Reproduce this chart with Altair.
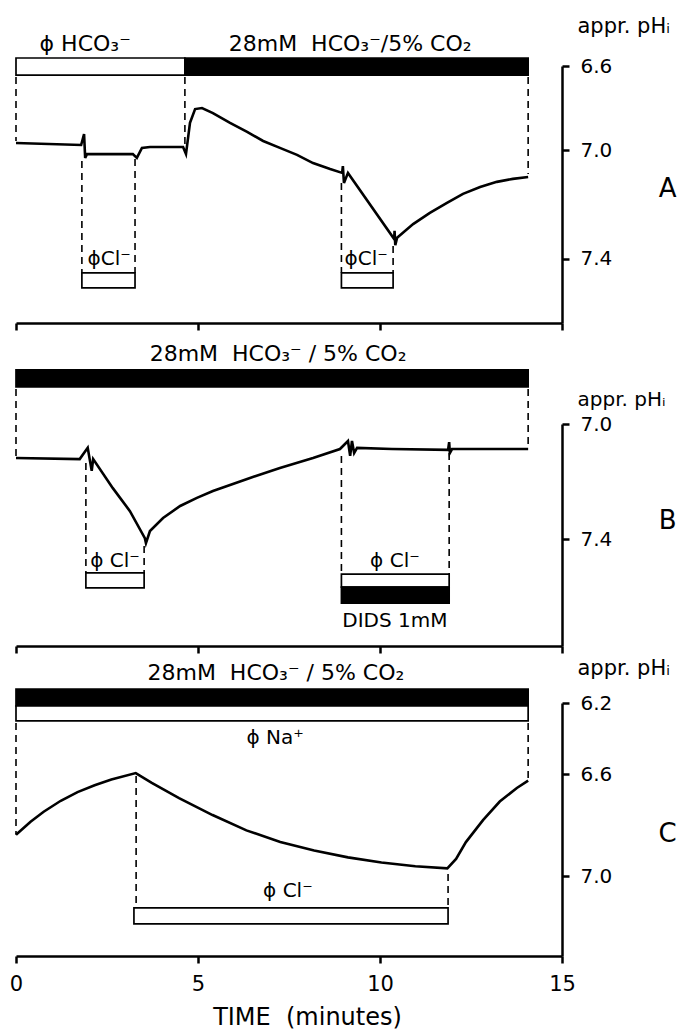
import altair as alt
import pandas as pd

FONT = "DejaVu Sans"
NB = "\u00a0"

# ---------------- Panel A ----------------
a_t = [0, 1.79, 1.87, 1.90, 1.95, 3.21, 3.32, 3.46, 3.68, 4.59, 4.67, 4.78, 4.92, 5.11, 5.41, 5.88,
       6.35, 6.79, 7.25, 7.72, 8.16, 8.63, 8.96, 8.98, 9.01, 9.12, 10.39, 10.40, 10.42, 10.47,
       10.91, 11.37, 11.84, 12.28, 12.75, 13.21, 13.65, 14.07]
a_ph = [6.967, 6.976, 6.924, 7.029, 7.015, 7.015, 7.029, 6.990, 6.986, 6.986, 7.015, 6.871, 6.805,
        6.800, 6.824, 6.871, 6.914, 6.957, 6.990, 7.018, 7.048, 7.070, 7.084, 7.059, 7.121, 7.084,
        7.327, 7.297, 7.349, 7.322, 7.272, 7.231, 7.194, 7.161, 7.136, 7.117, 7.106, 7.099]

a_bar_start = [0, 4.64, 1.81, 8.94]
a_bar_end = [4.64, 14.07, 3.27, 10.36]
a_bar_top = [6.562, 6.562, 7.451, 7.451]
a_bar_bottom = [6.643, 6.643, 7.506, 7.506]
a_bar_fill = ["free", "present", "free", "free"]

a_dash_t = [0, 4.64, 14.07, 1.81, 3.27, 8.94, 10.36]
a_dash_from = [6.652, 6.652, 6.652, 7.040, 7.033, 7.121, 7.352]
a_dash_to = [6.957, 6.971, 7.088, 7.451, 7.451, 7.451, 7.451]

a_head_t = [1.9, 9.18]
a_head_ph = [6.495, 6.495]
a_head_txt = ["ϕ HCO₃⁻", "28mM" + NB + NB + "HCO₃⁻/5% CO₂"]
a_lab_t = [2.56, 9.62]
a_lab_ph = [7.40, 7.40]
a_lab_txt = ["ϕCl⁻", "ϕCl⁻"]
a_letter = ("A", 17.9, 7.143)

# ---------------- Panel B ----------------
b_t = [0, 1.75, 1.97, 2.08, 2.12, 2.66, 3.13, 3.54, 3.57, 3.68, 4.04, 4.51, 4.97, 5.41, 6.35, 7.25,
       8.16, 8.90, 9.12, 9.18, 9.23, 9.29, 9.37, 10.33, 11.87, 11.90, 11.92, 11.98, 14.07]
b_ph = [7.118, 7.122, 7.083, 7.163, 7.122, 7.223, 7.303, 7.397, 7.414, 7.372, 7.327, 7.285, 7.257,
        7.233, 7.191, 7.153, 7.118, 7.087, 7.059, 7.111, 7.059, 7.101, 7.083, 7.087, 7.090, 7.063,
        7.101, 7.087, 7.087]

b_bar_start = [0, 1.92, 8.94, 8.94]
b_bar_end = [14.07, 3.52, 11.90, 11.90]
b_bar_top = [6.812, 7.518, 7.522, 7.567]
b_bar_bottom = [6.871, 7.570, 7.567, 7.623]
b_bar_fill = ["present", "free", "free", "present"]

b_dash_t = [0, 14.07, 1.92, 3.52, 8.94, 11.90]
b_dash_from = [6.878, 6.878, 7.136, 7.424, 7.111, 7.101]
b_dash_to = [7.118, 7.087, 7.518, 7.518, 7.522, 7.522]

b_head_t = [7.2]
b_head_ph = [6.757]
b_head_txt = ["28mM" + NB + NB + "HCO₃⁻ / 5% CO₂"]
b_lab_t = [2.72, 10.41, 10.41]
b_lab_ph = [7.477, 7.477, 7.685]
b_lab_txt = ["ϕ Cl⁻", "ϕ Cl⁻", "DIDS 1mM"]
b_letter = ("B", 17.9, 7.337)

# ---------------- Panel C ----------------
c_t = [0, 0.40, 0.76, 1.23, 1.69, 2.16, 2.62, 3.29, 3.73, 4.48, 5.40, 6.33, 7.26, 8.19, 9.12,
       10.04, 10.97, 11.85, 12.09, 12.36, 12.83, 13.29, 13.76, 14.07]
c_ph = [6.838, 6.787, 6.748, 6.705, 6.671, 6.644, 6.622, 6.595, 6.635, 6.695, 6.761, 6.821, 6.867,
        6.900, 6.927, 6.947, 6.962, 6.970, 6.933, 6.867, 6.781, 6.708, 6.655, 6.626]

c_bar_start = [0, 0, 3.24]
c_bar_end = [14.07, 14.07, 11.87]
c_bar_top = [6.121, 6.217, 7.125]
c_bar_bottom = [6.217, 6.301, 7.188]
c_bar_fill = ["present", "free", "free"]

c_dash_t = [0, 14.07, 3.30, 11.87]
c_dash_from = [6.313, 6.313, 6.608, 6.992]
c_dash_to = [6.838, 6.626, 7.125, 7.125]

c_head_t = [7.14]
c_head_ph = [6.031]
c_head_txt = ["28mM" + NB + NB + "HCO₃⁻ / 5% CO₂"]
c_lab_t = [7.12, 7.47]
c_lab_ph = [6.397, 7.059]
c_lab_txt = ["ϕ Na⁺", "ϕ Cl⁻"]
c_letter = ("C", 17.9, 6.835)

x_ticks = [0, 5, 10, 15]


def panel(t, ph, bs, be, bt, bb, bf, dt, dfr, dto, ht, hp, htxt, lt, lp, ltxt, letter,
          y_domain, y_range, height, y_ticks, title_y, title_size, last):
    trace = pd.DataFrame({"t": t, "ph": ph, "i": list(range(len(t)))})
    bars = pd.DataFrame({"t": bs, "t1": be, "ph": bt, "p1": bb, "sol": bf})
    dashes = pd.DataFrame({"t": dt, "ph": dfr, "p1": dto})
    heads = pd.DataFrame({"t": ht, "ph": hp, "txt": htxt})
    labs = pd.DataFrame({"t": lt, "ph": lp, "txt": ltxt})
    lett = pd.DataFrame({"t": [letter[1]], "ph": [letter[2]], "txt": [letter[0]]})

    xs = alt.Scale(domain=[0, 15], nice=False, zero=False)
    ys = alt.Scale(domain=y_domain, range=y_range, nice=False, zero=False)

    x_axis = alt.Axis(values=x_ticks, labels=last, format="d", tickSize=7, labelFlush=False,
                      labelFontSize=21, labelPadding=10, labelFont=FONT, titleFont=FONT,
                      titleFontSize=24, titleFontWeight="normal", titlePadding=11, titleX=291,
                      grid=False)
    y_axis = alt.Axis(orient="right", values=y_ticks, format=".1f", tickSize=7, labelFlush=False,
                      labelFontSize=20, labelPadding=11, labelFont=FONT, grid=False,
                      titleAngle=0, titleAlign="left", titleBaseline="middle",
                      titleX=15, titleY=title_y, titleFont=FONT, titleFontSize=title_size,
                      titleFontWeight="normal")
    x_title = "TIME" + NB + NB + "(minutes)" if last else None

    def X(field):
        return alt.X(field, scale=xs, axis=x_axis, title=x_title)

    def Y(field):
        return alt.Y(field, scale=ys, axis=y_axis, title="appr. pHᵢ")

    line = alt.Chart(trace).mark_line(color="black", strokeWidth=2.6).encode(
        x=X("t:Q"), y=Y("ph:Q"), order="i:Q")
    rects = alt.Chart(bars).mark_rect(stroke="black", strokeWidth=1.7).encode(
        x=X("t:Q"), x2="t1:Q", y=Y("ph:Q"), y2="p1:Q",
        fill=alt.Fill("sol:N", scale=alt.Scale(domain=["free", "present"], range=["white", "black"]),
                      legend=None),
    )
    rules = alt.Chart(dashes).mark_rule(color="black", strokeWidth=1.6, strokeDash=[7, 5]).encode(
        x=X("t:Q"), y=Y("ph:Q"), y2="p1:Q")
    head_txt = alt.Chart(heads).mark_text(font=FONT, fontSize=22, color="black").encode(
        x=X("t:Q"), y=Y("ph:Q"), text="txt:N")
    lab_txt = alt.Chart(labs).mark_text(font=FONT, fontSize=20, color="black").encode(
        x=X("t:Q"), y=Y("ph:Q"), text="txt:N")
    let_txt = alt.Chart(lett).mark_text(font=FONT, fontSize=26, color="black").encode(
        x=X("t:Q"), y=Y("ph:Q"), text="txt:N")

    return alt.layer(line, rects, rules, head_txt, lab_txt, let_txt).properties(width=546, height=height)


pa = panel(a_t, a_ph, a_bar_start, a_bar_end, a_bar_top, a_bar_bottom, a_bar_fill,
           a_dash_t, a_dash_from, a_dash_to, a_head_t, a_head_ph, a_head_txt,
           a_lab_t, a_lab_ph, a_lab_txt, a_letter,
           [6.6, 7.0, 7.635], [0, 84, 257], 257, [6.6, 7.0, 7.4], -40, 21, False)
pb = panel(b_t, b_ph, b_bar_start, b_bar_end, b_bar_top, b_bar_bottom, b_bar_fill,
           b_dash_t, b_dash_from, b_dash_to, b_head_t, b_head_ph, b_head_txt,
           b_lab_t, b_lab_ph, b_lab_txt, b_letter,
           [7.0, 7.772], [71, 293], 293, [7.0, 7.4], 46, 20, False)
pc = panel(c_t, c_ph, c_bar_start, c_bar_end, c_bar_top, c_bar_bottom, c_bar_fill,
           c_dash_t, c_dash_from, c_dash_to, c_head_t, c_head_ph, c_head_txt,
           c_lab_t, c_lab_ph, c_lab_txt, c_letter,
           [6.2, 6.6, 7.0, 7.314], [27, 98, 200, 280], 280, [6.2, 6.6, 7.0], -8, 21, True)

chart = alt.vconcat(pa, pb, pc, spacing=30, bounds="flush").properties(
    padding={"left": 9, "top": 15, "right": 0, "bottom": 0},
    background="white",
).configure_view(stroke=None).configure_axis(
    domainColor="black", domainWidth=2.5, tickColor="black", tickWidth=2.5,
    labelColor="black", titleColor="black",
)

chart.save("out.html", embed_options={"renderer": "svg", "actions": False})
